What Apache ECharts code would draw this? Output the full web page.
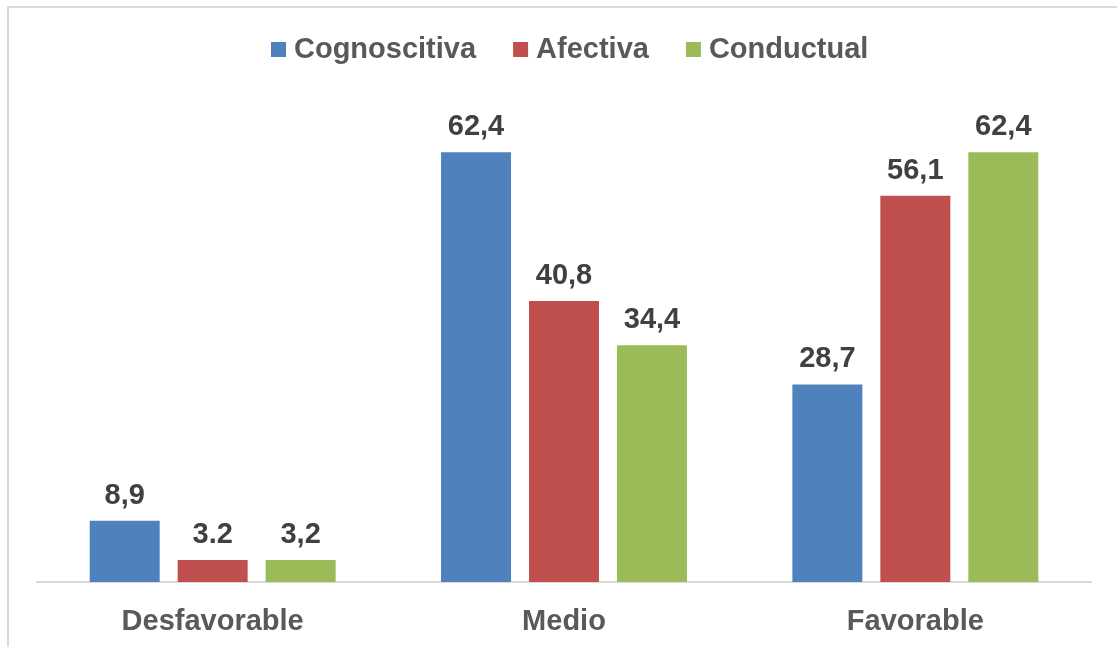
<!DOCTYPE html>
<html>
<head>
<meta charset="utf-8">
<script src="https://cdn.jsdelivr.net/npm/echarts@6/dist/echarts.min.js"></script>
<style>
html,body{margin:0;padding:0;background:#fff;}
#chart{width:1117px;height:647px;}
</style>
</head>
<body>
<div id="chart"></div>
<script>
const categories = ['Desfavorable', 'Medio', 'Favorable'];
const seriesNames = ['Cognoscitiva', 'Afectiva', 'Conductual'];
const cognoscitiva = [8.9, 62.4, 28.7];
const afectiva = [3.2, 40.8, 56.1];
const conductual = [3.2, 34.4, 62.4];
const cognoscitivaLabels = ['8,9', '62,4', '28,7'];
const afectivaLabels = ['3.2', '40,8', '56,1'];
const conductualLabels = ['3,2', '34,4', '62,4'];
const colors = ['#4F81BD', '#C0504D', '#9BBB59'];

const values = [cognoscitiva, afectiva, conductual];
const labels = [cognoscitivaLabels, afectivaLabels, conductualLabels];
const FONT = '"Liberation Sans", Arial, sans-serif';

const chart = echarts.init(document.getElementById('chart'));
chart.setOption({
  animation: false,
  color: colors,
  graphic: [{
    type: 'rect',
    shape: { x: 8, y: 7, width: 1200, height: 700 },
    style: { fill: 'none', stroke: '#D9D9D9', lineWidth: 2 },
    silent: true
  }],
  legend: {
    top: 30,
    left: 266,
    itemWidth: 15,
    itemHeight: 15,
    itemGap: 37,
    icon: 'rect',
    textStyle: { fontFamily: FONT, fontWeight: 'bold', fontSize: 29, color: '#595959', padding: [0, 0, 0, 3] },
    data: seriesNames
  },
  grid: { left: 37, right: 26, top: 100, bottom: 65, containLabel: false },
  xAxis: {
    type: 'category',
    data: categories,
    axisLine: { lineStyle: { color: '#D9D9D9', width: 2 } },
    axisTick: { show: false },
    axisLabel: { fontFamily: FONT, fontWeight: 'bold', fontSize: 29, color: '#595959', margin: 25 }
  },
  yAxis: {
    type: 'value',
    min: 0,
    max: 70,
    interval: 10,
    show: false,
    splitLine: { show: false }
  },
  series: seriesNames.map((name, i) => ({
    name: name,
    type: 'bar',
    data: values[i],
    barGap: '25.7%',
    barCategoryGap: '30%',
    itemStyle: { color: colors[i] },
    label: {
      show: true,
      position: 'top',
      distance: 10.5,
      fontFamily: FONT,
      fontWeight: 'bold',
      fontSize: 29,
      color: '#404040',
      formatter: p => labels[i][p.dataIndex]
    }
  }))
});
</script>
</body>
</html>
